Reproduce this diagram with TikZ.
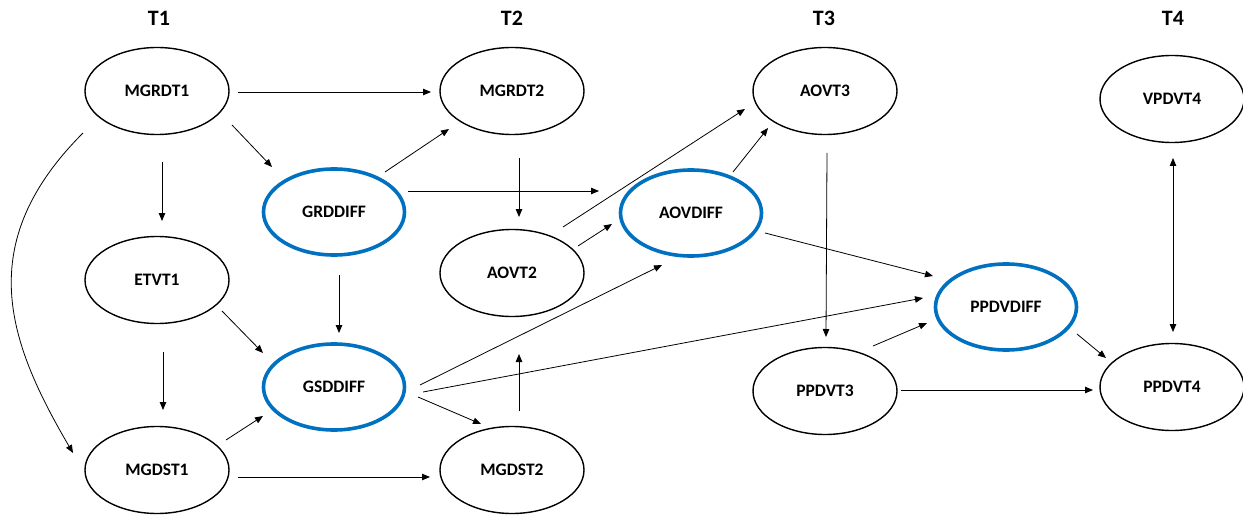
\documentclass[tikz,border=0pt]{standalone}
\usepackage{fontspec}
\setmainfont{Carlito}
\usetikzlibrary{arrows.meta,shapes.geometric}
\definecolor{diffblue}{HTML}{0070C0}
\begin{document}
\begin{tikzpicture}[x=1pt,y=-1pt,
  var/.style={ellipse,draw=black,line width=1.4pt,minimum width=144pt,minimum height=87pt,inner sep=0pt,font=\fontsize{17.5}{20}\selectfont\bfseries},
  diffvar/.style={var,draw=diffblue,line width=3.6pt,minimum width=141pt,minimum height=86pt},
  wave/.style={font=\fontsize{22}{26}\selectfont\bfseries,inner sep=0pt},
  link/.style={line width=0.8pt,-{Triangle[length=8pt,width=6.5pt]}},
  both/.style={line width=0.8pt,{Triangle[length=8pt,width=6.5pt]}-{Triangle[length=8pt,width=6.5pt]}}
  ]
\useasboundingbox (0,0) rectangle (1243,516);

\node[wave] (t1) at (159,18) {T1};
\node[wave] (t2) at (512,18) {T2};
\node[wave] (t3) at (824,18) {T3};
\node[wave] (t4) at (1173,18) {T4};

\node[var] (m1) at (157,91) {MGRDT1};
\node[diffvar] (g) at (334,212) {GRDDIFF};
\node[var] (e1) at (157,280) {ETVT1};
\node[diffvar] (gs) at (334,387) {GSDDIFF};
\node[var] (d1) at (157,470) {MGDST1};
\node[var] (m2) at (512,91) {MGRDT2};
\node[var] (a2) at (512,273) {AOVT2};
\node[var] (d2) at (512,470) {MGDST2};
\node[diffvar] (ad) at (691,213) {AOVDIFF};
\node[var] (a3) at (825,91) {AOVT3};
\node[var] (p3) at (825,391) {PPDVT3};
\node[diffvar] (pd) at (1006,307) {PPDVDIFF};
\node[var] (v4) at (1172,99) {VPDVT4};
\node[var] (p4) at (1172,387) {PPDVT4};

\draw[link] ([shift={(81,1)}]m1.center) -- ([shift={(-81,1)}]m2.center);
\draw[link] ([shift={(75,34)}]m1.center) -- ([shift={(-62,-45)}]g.center);
\draw[link] ([shift={(5,71)}]m1.center) -- ([shift={(5,-59)}]e1.center);
\draw[link] ([shift={(-74,42)}]m1.center) .. controls (-28,244) and (8,342) .. ([shift={(-84,-17)}]d1.center);
\draw[link] ([shift={(51,-40)}]g.center) -- ([shift={(-63,38)}]m2.center);
\draw[link] ([shift={(74,-21)}]g.center) -- ([shift={(-92,-22)}]ad.center);
\draw[link] ([shift={(5,63)}]g.center) -- ([shift={(5,-54)}]gs.center);
\draw[link] ([shift={(7,67)}]m2.center) -- ([shift={(7,-56)}]a2.center);
\draw[link] ([shift={(51,-46)}]a2.center) -- ([shift={(-80,18)}]a3.center);
\draw[link] ([shift={(66,-27)}]a2.center) -- ([shift={(-79,11)}]ad.center);
\draw[link] ([shift={(42,-41)}]ad.center) -- ([shift={(-57,37)}]a3.center);
\draw[link] ([shift={(74,20)}]ad.center) -- ([shift={(-73,-31)}]pd.center);
\draw[link] ([shift={(2,62)}]a3.center) -- ([shift={(1,-54)}]p3.center);
\draw[link] ([shift={(65,31)}]e1.center) -- ([shift={(-71,-34)}]gs.center);
\draw[link] ([shift={(6,72)}]e1.center) -- ([shift={(6,-60)}]d1.center);
\draw[link] ([shift={(69,-30)}]d1.center) -- ([shift={(-71,29)}]gs.center);
\draw[link] ([shift={(81,7)}]d1.center) -- ([shift={(-82,7)}]d2.center);
\draw[link] ([shift={(86,-2)}]gs.center) -- ([shift={(-29,52)}]ad.center);
\draw[link] ([shift={(89,5)}]gs.center) -- ([shift={(-83,-9)}]pd.center);
\draw[link] ([shift={(84,10)}]gs.center) -- ([shift={(-31,-46)}]d2.center);
\draw[link] ([shift={(7,-59)}]d2.center) -- ([shift={(7,81)}]a2.center);
\draw[link] ([shift={(48,-45)}]p3.center) -- ([shift={(-79,16)}]pd.center);
\draw[link] ([shift={(71,27)}]pd.center) -- ([shift={(-66,-29)}]p4.center);
\draw[link] ([shift={(76,-1)}]p3.center) -- ([shift={(-79,3)}]p4.center);
\draw[both] ([shift={(1,59)}]v4.center) -- ([shift={(1,-55)}]p4.center);
\end{tikzpicture}
\end{document}
